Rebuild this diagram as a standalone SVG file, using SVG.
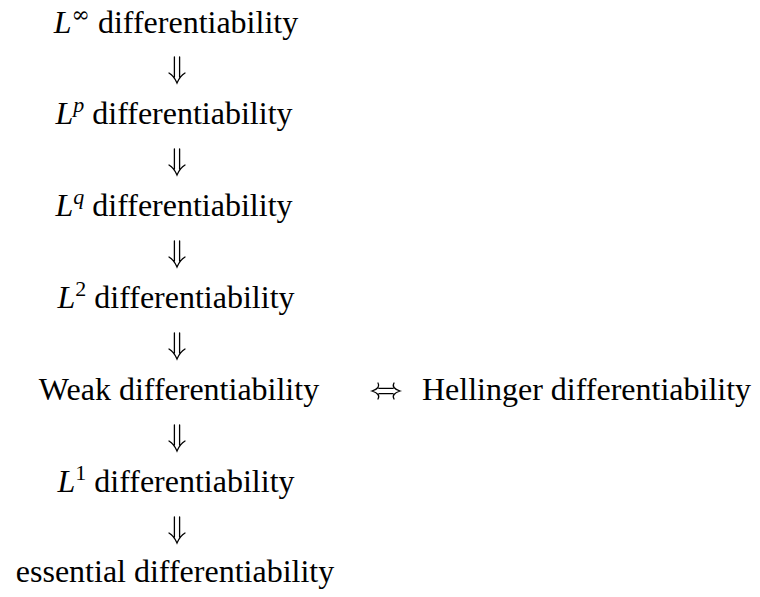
<svg xmlns="http://www.w3.org/2000/svg" width="760" height="597" viewBox="0 0 760 597">
<style>
text{font-family:"Liberation Serif","DejaVu Serif",serif;font-size:32px;fill:#000}
.c{text-anchor:middle}
.i{font-style:italic}
.arr{fill:none;stroke:#000;stroke-width:1.3;stroke-linecap:round}
</style>
<rect width="760" height="597" fill="#fff"/>
<g id="n1"><text class="c" x="176" y="33"><tspan class="i">L</tspan><tspan dy="-11" font-size="22" font-family="DejaVu Serif">∞</tspan><tspan dy="11"> differentiability</tspan></text></g>
<g id="n2"><text class="c" x="174" y="124"><tspan class="i">L</tspan><tspan dy="-12" font-size="22" class="i">p</tspan><tspan dy="12"> differentiability</tspan></text></g>
<g id="n3"><text class="c" x="174" y="216"><tspan class="i">L</tspan><tspan dy="-12" font-size="22" class="i">q</tspan><tspan dy="12"> differentiability</tspan></text></g>
<g id="n4"><text class="c" x="176" y="308"><tspan class="i">L</tspan><tspan dy="-12" font-size="22">2</tspan><tspan dy="12"> differentiability</tspan></text></g>
<g id="n5"><text class="c" x="179" y="400">Weak differentiability</text></g>
<g id="n6"><text x="422" y="400">Hellinger differentiability</text></g>
<g id="n7"><text class="c" x="176" y="492"><tspan class="i">L</tspan><tspan dy="-12" font-size="22">1</tspan><tspan dy="12"> differentiability</tspan></text></g>
<g id="n8"><text class="c" x="175" y="582">essential differentiability</text></g>
<g id="connectors">
<defs>
<path id="dn" class="arr" d="M-2.6,0 V20 M2.6,0 V20 M-8,16 Q-3,19 0,26 Q3,19 8,16"/>
</defs>
<use href="#dn" x="177" y="57"/>
<use href="#dn" x="177" y="149"/>
<use href="#dn" x="177" y="241"/>
<use href="#dn" x="177" y="333"/>
<use href="#dn" x="177" y="425"/>
<use href="#dn" x="177" y="517"/>
<path class="arr" d="M379,388.4 H393 M379,393.6 H393 M378,383 Q381,388 372,391 Q381,394 378,399 M394,383 Q391,388 400,391 Q391,394 394,399"/>
</g>
</svg>
